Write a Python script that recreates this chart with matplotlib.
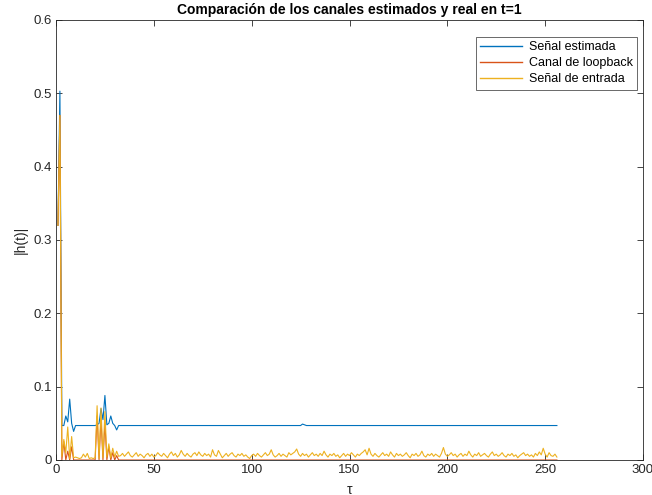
"""Comparación de los canales estimados y real en t=1 (MATLAB-style line plot)."""
import numpy as np
import matplotlib
matplotlib.use("Agg")
import matplotlib.pyplot as plt

plt.rcParams["font.family"] = ["Liberation Sans", "DejaVu Sans"]

# taps 1..32 (the region with structure)
estimada_head = [0.320, 0.503, 0.047, 0.047, 0.060, 0.052, 0.083, 0.050,
                 0.039, 0.047, 0.047, 0.047, 0.047, 0.047, 0.047, 0.047,
                 0.047, 0.047, 0.047, 0.047, 0.048, 0.050, 0.070, 0.055,
                 0.088, 0.048, 0.050, 0.060, 0.050, 0.047, 0.041, 0.047]
loopback_head = [0.320, 0.470, 0.000, 0.025, 0.000, 0.012, 0.000, 0.018,
                 0.000, 0.000, 0.000, 0.000, 0.000, 0.000, 0.000, 0.000,
                 0.000, 0.000, 0.000, 0.000, 0.060, 0.000, 0.056, 0.000,
                 0.050, 0.000, 0.018, 0.000, 0.010, 0.000, 0.006, 0.000]
entrada_head = [0.320, 0.470, 0.005, 0.028, 0.010, 0.045, 0.002, 0.032,
                0.003, 0.004, 0.003, 0.002, 0.003, 0.008, 0.004, 0.009,
                0.002, 0.003, 0.002, 0.003, 0.074, 0.002, 0.071, 0.003,
                0.066, 0.004, 0.022, 0.003, 0.016, 0.004, 0.012, 0.005]

# taps 33..256
estimada_tail = [
    0.047, 0.047, 0.047, 0.047, 0.047, 0.047, 0.047, 0.047, 0.047, 0.047, 0.047, 0.047, 0.047, 0.047, 0.047, 0.047,
    0.047, 0.047, 0.047, 0.047, 0.047, 0.047, 0.047, 0.047, 0.047, 0.047, 0.047, 0.047, 0.047, 0.047, 0.047, 0.047,
    0.047, 0.047, 0.047, 0.047, 0.047, 0.047, 0.047, 0.047, 0.047, 0.047, 0.047, 0.047, 0.047, 0.047, 0.047, 0.047,
    0.047, 0.047, 0.047, 0.047, 0.047, 0.047, 0.047, 0.047, 0.047, 0.047, 0.047, 0.047, 0.047, 0.047, 0.047, 0.047,
    0.047, 0.047, 0.047, 0.047, 0.047, 0.047, 0.047, 0.047, 0.047, 0.047, 0.047, 0.047, 0.047, 0.047, 0.047, 0.047,
    0.047, 0.047, 0.047, 0.047, 0.047, 0.047, 0.047, 0.047, 0.047, 0.047, 0.047, 0.047, 0.047, 0.049, 0.048, 0.047,
    0.047, 0.047, 0.047, 0.047, 0.047, 0.047, 0.047, 0.047, 0.047, 0.047, 0.047, 0.047, 0.047, 0.047, 0.047, 0.047,
    0.047, 0.047, 0.047, 0.047, 0.047, 0.047, 0.047, 0.047, 0.047, 0.047, 0.047, 0.047, 0.047, 0.047, 0.047, 0.047,
    0.047, 0.047, 0.047, 0.047, 0.047, 0.047, 0.047, 0.047, 0.047, 0.047, 0.047, 0.047, 0.047, 0.047, 0.047, 0.047,
    0.047, 0.047, 0.047, 0.047, 0.047, 0.047, 0.047, 0.047, 0.047, 0.047, 0.047, 0.047, 0.047, 0.047, 0.047, 0.047,
    0.047, 0.047, 0.047, 0.047, 0.047, 0.047, 0.047, 0.047, 0.047, 0.047, 0.047, 0.047, 0.047, 0.047, 0.047, 0.047,
    0.047, 0.047, 0.047, 0.047, 0.047, 0.047, 0.047, 0.047, 0.047, 0.047, 0.047, 0.047, 0.047, 0.047, 0.047, 0.047,
    0.047, 0.047, 0.047, 0.047, 0.047, 0.047, 0.047, 0.047, 0.047, 0.047, 0.047, 0.047, 0.047, 0.047, 0.047, 0.047,
    0.047, 0.047, 0.047, 0.047, 0.047, 0.047, 0.047, 0.047, 0.047, 0.047, 0.047, 0.047, 0.047, 0.047, 0.047, 0.047,
]
loopback_tail = [
    0.0, 0.0, 0.0, 0.0, 0.0, 0.0, 0.0, 0.0, 0.0, 0.0, 0.0, 0.0, 0.0, 0.0, 0.0, 0.0,
    0.0, 0.0, 0.0, 0.0, 0.0, 0.0, 0.0, 0.0, 0.0, 0.0, 0.0, 0.0, 0.0, 0.0, 0.0, 0.0,
    0.0, 0.0, 0.0, 0.0, 0.0, 0.0, 0.0, 0.0, 0.0, 0.0, 0.0, 0.0, 0.0, 0.0, 0.0, 0.0,
    0.0, 0.0, 0.0, 0.0, 0.0, 0.0, 0.0, 0.0, 0.0, 0.0, 0.0, 0.0, 0.0, 0.0, 0.0, 0.0,
    0.0, 0.0, 0.0, 0.0, 0.0, 0.0, 0.0, 0.0, 0.0, 0.0, 0.0, 0.0, 0.0, 0.0, 0.0, 0.0,
    0.0, 0.0, 0.0, 0.0, 0.0, 0.0, 0.0, 0.0, 0.0, 0.0, 0.0, 0.0, 0.0, 0.0, 0.0, 0.0,
    0.0, 0.0, 0.0, 0.0, 0.0, 0.0, 0.0, 0.0, 0.0, 0.0, 0.0, 0.0, 0.0, 0.0, 0.0, 0.0,
    0.0, 0.0, 0.0, 0.0, 0.0, 0.0, 0.0, 0.0, 0.0, 0.0, 0.0, 0.0, 0.0, 0.0, 0.0, 0.0,
    0.0, 0.0, 0.0, 0.0, 0.0, 0.0, 0.0, 0.0, 0.0, 0.0, 0.0, 0.0, 0.0, 0.0, 0.0, 0.0,
    0.0, 0.0, 0.0, 0.0, 0.0, 0.0, 0.0, 0.0, 0.0, 0.0, 0.0, 0.0, 0.0, 0.0, 0.0, 0.0,
    0.0, 0.0, 0.0, 0.0, 0.0, 0.0, 0.0, 0.0, 0.0, 0.0, 0.0, 0.0, 0.0, 0.0, 0.0, 0.0,
    0.0, 0.0, 0.0, 0.0, 0.0, 0.0, 0.0, 0.0, 0.0, 0.0, 0.0, 0.0, 0.0, 0.0, 0.0, 0.0,
    0.0, 0.0, 0.0, 0.0, 0.0, 0.0, 0.0, 0.0, 0.0, 0.0, 0.0, 0.0, 0.0, 0.0, 0.0, 0.0,
    0.0, 0.0, 0.0, 0.0, 0.0, 0.0, 0.0, 0.0, 0.0, 0.0, 0.0, 0.0, 0.0, 0.0, 0.0, 0.0,
]
entrada_tail = [
    0.006, 0.009, 0.005, 0.008, 0.011, 0.006, 0.004, 0.007, 0.010, 0.005, 0.008, 0.006, 0.003, 0.007, 0.009, 0.005,
    0.008, 0.004, 0.006, 0.010, 0.007, 0.005, 0.009, 0.006, 0.003, 0.008, 0.011, 0.006, 0.009, 0.004, 0.007, 0.013,
    0.008, 0.005, 0.009, 0.006, 0.004, 0.008, 0.010, 0.006, 0.011, 0.007, 0.005, 0.009, 0.006, 0.008, 0.004, 0.014,
    0.007, 0.005, 0.013, 0.008, 0.003, 0.006, 0.009, 0.005, 0.008, 0.010, 0.006, 0.004, 0.008, 0.006, 0.009, 0.005,
    0.007, 0.004, 0.002, 0.006, 0.008, 0.005, 0.009, 0.006, 0.004, 0.007, 0.010, 0.006, 0.008, 0.014, 0.007, 0.004,
    0.006, 0.009, 0.005, 0.008, 0.006, 0.004, 0.010, 0.007, 0.009, 0.011, 0.015, 0.008, 0.005, 0.009, 0.006, 0.008,
    0.004, 0.007, 0.010, 0.006, 0.008, 0.005, 0.009, 0.006, 0.012, 0.007, 0.004, 0.008, 0.006, 0.009, 0.005, 0.007,
    0.003, 0.006, 0.009, 0.005, 0.008, 0.006, 0.010, 0.007, 0.004, 0.008, 0.006, 0.009, 0.011, 0.014, 0.007, 0.016,
    0.008, 0.005, 0.009, 0.006, 0.004, 0.007, 0.010, 0.006, 0.008, 0.005, 0.011, 0.007, 0.004, 0.009, 0.006, 0.008,
    0.005, 0.007, 0.010, 0.006, 0.003, 0.008, 0.006, 0.009, 0.005, 0.007, 0.012, 0.006, 0.004, 0.008, 0.006, 0.009,
    0.005, 0.008, 0.006, 0.004, 0.009, 0.017, 0.008, 0.005, 0.007, 0.010, 0.006, 0.008, 0.004, 0.007, 0.009, 0.005,
    0.008, 0.006, 0.012, 0.007, 0.004, 0.008, 0.006, 0.010, 0.005, 0.007, 0.009, 0.006, 0.004, 0.008, 0.011, 0.006,
    0.008, 0.005, 0.007, 0.010, 0.006, 0.004, 0.008, 0.006, 0.009, 0.005, 0.007, 0.003, 0.006, 0.008, 0.010, 0.006,
    0.008, 0.005, 0.007, 0.004, 0.009, 0.006, 0.011, 0.007, 0.016, 0.008, 0.004, 0.010, 0.006, 0.005, 0.008, 0.004,
]

labels = ["Señal estimada", "Canal de loopback", "Señal de entrada"]
colors = ["#0072BD", "#D95319", "#EDB120"]


def main():
    estimada = np.array(estimada_head + estimada_tail)
    loopback = np.array(loopback_head + loopback_tail)
    entrada = np.array(entrada_head + entrada_tail)
    taps = np.arange(1, len(estimada) + 1)

    fig = plt.figure(figsize=(6.52, 4.95), dpi=100)
    ax = fig.add_axes([56 / 652, 1 - 460 / 495, (643 - 56) / 652, (460 - 20) / 495])

    for y, lab, col in zip([estimada, loopback, entrada], labels, colors):
        ax.plot(taps, y, color=col, lw=0.8, label=lab)

    ax.set_xlim(0, 300)
    ax.set_ylim(0, 0.6)
    ax.set_xticks([0, 50, 100, 150, 200, 250, 300])
    ax.set_yticks([0, 0.1, 0.2, 0.3, 0.4, 0.5, 0.6])
    ax.set_yticklabels(["0", "0.1", "0.2", "0.3", "0.4", "0.5", "0.6"])

    edge = "#262626"
    for s in ax.spines.values():
        s.set_color(edge)
        s.set_linewidth(0.6)
    ax.tick_params(direction="in", top=True, right=True, length=4, width=0.6,
                   color=edge, labelcolor=edge, labelsize=9.5, pad=3)

    ax.set_title("Comparación de los canales estimados y real en t=1",
                 fontsize=10, fontweight="bold", color="black", pad=4)
    ax.set_xlabel("τ", fontsize=10, color=edge, labelpad=5)
    ax.set_ylabel("|h(t)|", fontsize=10, color=edge, labelpad=4)

    leg = ax.legend(loc="upper right", fontsize=9, frameon=True, fancybox=False,
                    handlelength=3.4, handletextpad=0.5, borderpad=0.35,
                    labelspacing=0.32, borderaxespad=0.0,
                    bbox_to_anchor=(0.9898, 0.9614))
    leg.get_frame().set_edgecolor(edge)
    leg.get_frame().set_linewidth(0.6)
    for h, col in zip(leg.get_lines(), colors):
        h.set_color(col)
        h.set_linewidth(1.0)

    fig.savefig("out.png", dpi=100)
    plt.close(fig)


if __name__ == "__main__":
    main()
